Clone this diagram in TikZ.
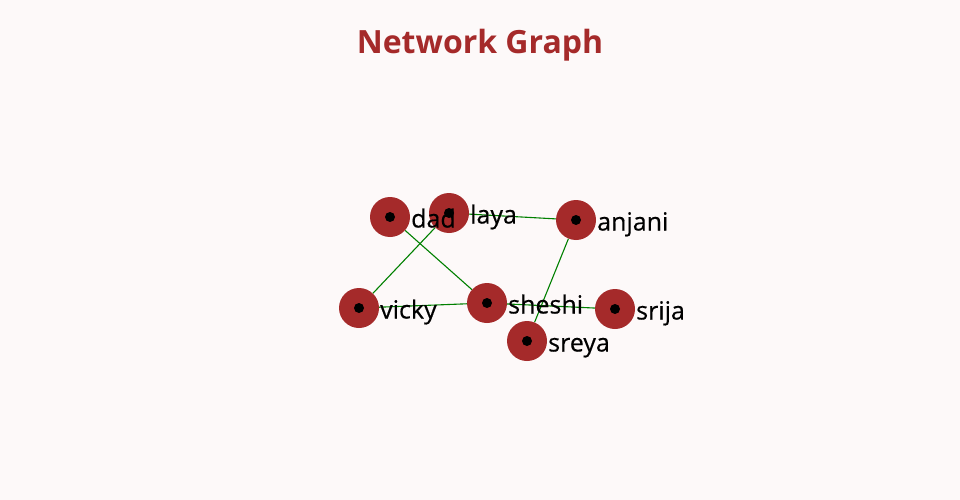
\documentclass[tikz,border=0pt]{standalone}
\usepackage{fontspec}
\setmainfont{Open Sans}
\newfontfamily\labelfont[FakeBold=0.4]{Open Sans}
\usetikzlibrary{positioning,backgrounds}

\definecolor{bgsnow}{RGB}{253,249,249}
\definecolor{nodebrown}{RGB}{165,42,42}
\definecolor{edgegreen}{RGB}{0,128,0}

\tikzset{
  vertex/.style={circle, fill=nodebrown, minimum size=40pt, inner sep=0pt},
  vlabel/.style={anchor=base west, inner sep=0pt, font=\labelfont\fontsize{25}{29}\selectfont},
  link/.style={draw=edgegreen, line width=1.1pt}
}

\begin{document}
\begin{tikzpicture}[x=1pt, y=-1pt]
  % Canvas
  \useasboundingbox (0,0) rectangle (960,500);
  \begin{scope}[on background layer]
    \fill[bgsnow] (0,0) rectangle (960,500);
  \end{scope}

  % Title
  \node[font=\bfseries\fontsize{32}{38}\selectfont, text=nodebrown] (title) at (480,45) {Network Graph};

  % Vertices
  \foreach \name/\x/\y in {dad/390/217, laya/449/213, anjani/576/220,
                           vicky/359/308, sheshi/487/303, srija/615/309, sreya/527/341} {
    \node[vertex] (\name) at (\x,\y) {};
  }

  % Edges (behind the vertices)
  \begin{scope}[on background layer]
    \draw[link] (dad) -- (sheshi);
    \draw[link] (laya) -- (vicky);
    \draw[link] (laya) -- (anjani);
    \draw[link] (anjani) -- (sreya);
    \draw[link] (vicky) -- (sheshi);
    \draw[link] (sheshi) -- (srija);
  \end{scope}

  % Labels and centre dots
  \foreach \name in {dad, laya, anjani, vicky, sheshi, srija, sreya} {
    \node[vlabel] (\name-label) at ([xshift=21pt, yshift=-10.5pt]\name.center) {\name};
  }
  \foreach \name in {dad, laya, anjani, vicky, sheshi, srija, sreya} {
    \fill (\name.center) circle (5pt);
  }
\end{tikzpicture}
\end{document}
